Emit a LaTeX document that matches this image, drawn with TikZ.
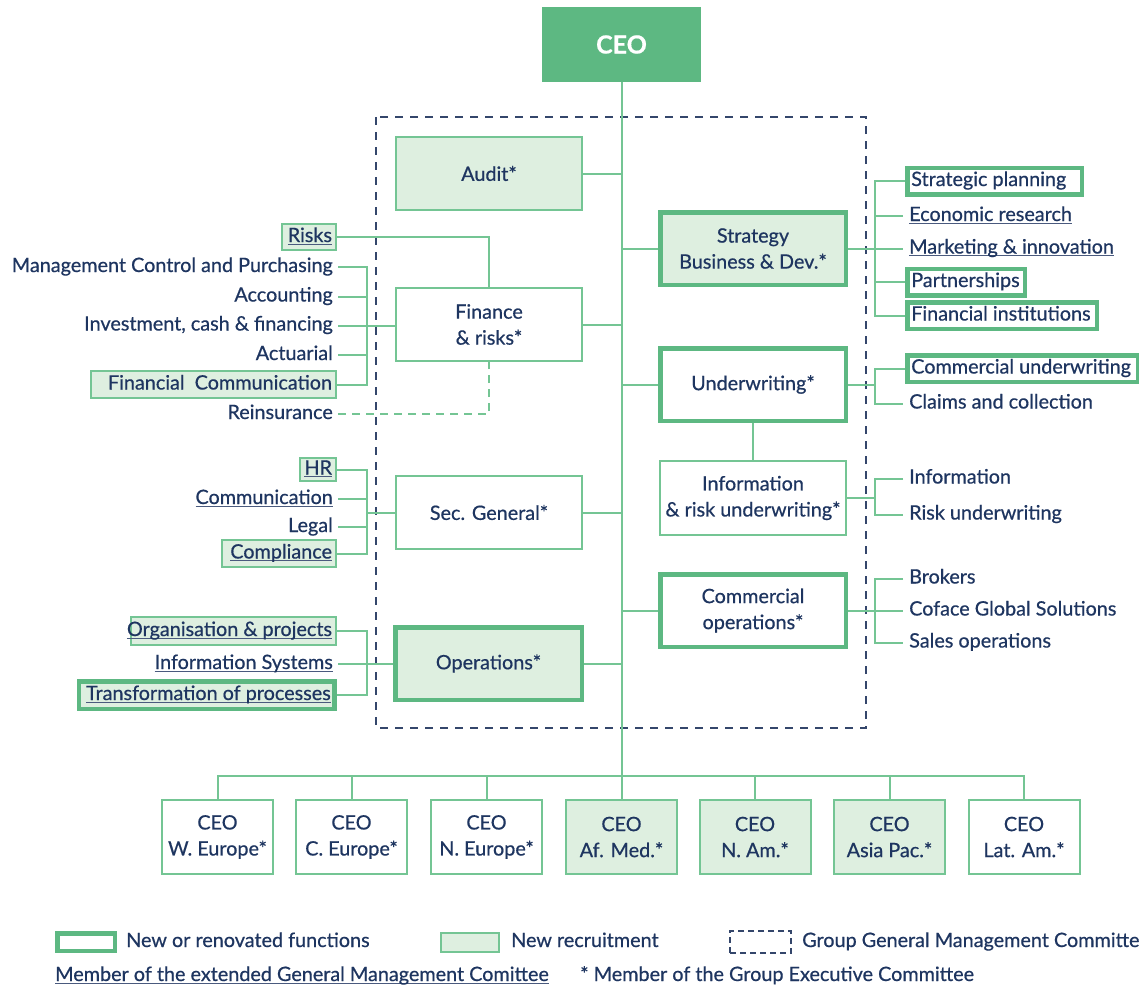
\documentclass[tikz,border=0pt]{standalone}
\usepackage{fontspec}
\setmainfont{Lato}[FakeBold=0.6]
\usetikzlibrary{calc}
\definecolor{gthick}{HTML}{5DB882}
\definecolor{gthin}{HTML}{74C594}
\definecolor{lfill}{HTML}{DEEFE0}
\definecolor{navy}{HTML}{1E3560}
\definecolor{dnavy}{HTML}{34466B}
\definecolor{ulc}{HTML}{4A5A7E}
\newcommand\fs{\fontsize{19.8}{26}\selectfont}
\newsavebox\ulbx
\newcommand\ulx[1]{\sbox\ulbx{#1}\rlap{\color{ulc}\rule[-2.6pt]{\wd\ulbx}{1.1pt}}\usebox\ulbx}
\newcommand\rtx[2]{\makebox[#1][r]{#2}}
\newcommand\ltx[2]{\makebox[#1][l]{#2}}
\tikzset{
  mbox/.style={draw=gthin, line width=2pt, minimum width=186pt, minimum height=73pt, align=center, font=\fs, text=navy, inner sep=0pt, fill=white},
  tbox/.style={mbox, draw=gthick, line width=4.5pt, minimum width=185.5pt, minimum height=72.5pt},
  lf/.style={fill=lfill},
  lt/.style={font=\fs, text=navy, inner xsep=5pt, inner ysep=0pt, text height=14pt, text depth=4pt},
  sbox/.style={lt, draw=gthin, line width=2pt, fill=lfill, inner xsep=4pt},
  skbox/.style={lt, draw=gthick, line width=4.5pt, inner xsep=3.75pt, fill=white},
  conn/.style={draw=gthin, line width=2pt},
  rbox/.style={draw=gthin, line width=2pt, minimum width=111pt, minimum height=74pt, align=center, font=\fs, text=navy, fill=white, inner sep=0pt}
}
\begin{document}
\begin{tikzpicture}[x=1pt,y=-1pt]
\useasboundingbox (0,0) rectangle (1139,986);
% group committee dashed frame
\draw[dnavy, line width=1.6pt, dash pattern=on 8pt off 7pt] (376,117) rectangle (866,728);
% bracket x positions
\coordinate (Lb) at (367,0);
\coordinate (Rb) at (875,0);
% CEO
\node[fill=gthick, minimum width=159pt, minimum height=75pt, inner sep=0pt, text=white, font=\fontsize{25}{30}\selectfont\bfseries] (ceo) at (621.5,44.5) {CEO};
% main boxes
\node[mbox, lf] (audit) at (489,173.5) {Audit*};
\node[tbox, lf] (strat) at (753,248.5) {Strategy\\Business \& Dev.*};
\node[mbox] (fin) at (489,324.5) {Finance\\\& risks*};
\node[tbox] (underw) at (753,384.5) {Underwriting*};
\node[mbox, minimum height=74pt] (info) at (753,498) {Information\\\& risk underwriting*};
\node[mbox] (sec) at (489,512.5) {Sec. General*};
\node[tbox] (comm) at (753,610.5) {Commercial\\operations*};
\node[tbox, lf, minimum width=186.5pt] (ops) at (488.5,663.5) {Operations*};
% regional boxes
\node[rbox] (r1) at (217.5,837) {CEO\\W. Europe*};
\node[rbox] (r2) at (351.5,837) {CEO\\C. Europe*};
\node[rbox] (r3) at (486.5,837) {CEO\\N. Europe*};
\node[rbox, lf] (r4) at (621.5,837) {CEO\\Af. Med.*};
\node[rbox, lf] (r5) at (755,837) {CEO\\N. Am.*};
\node[rbox, lf] (r6) at (889.5,837) {CEO\\Asia Pac.*};
\node[rbox] (r7) at (1024,837) {CEO\\Lat. Am.*};
% finance items
\node[sbox, anchor=east, minimum height=26pt] (risks) at (337,237) {\rtx{46pt}{\ulx{Risks}}};
\node[lt, anchor=east] (mcp) at (338,267) {Management Control and Purchasing};
\node[lt, anchor=east] (acc) at (338,296.5) {Accounting};
\node[lt, anchor=east] (inv) at (338,325.5) {Investment, cash \& financing};
\node[lt, anchor=east] (act) at (338,355) {Actuarial};
\node[sbox, anchor=east, minimum height=27pt] (fcom) at (337,384.5) {\rtx{237pt}{Financial\ \ Communication}};
\node[lt, anchor=east] (reins) at (338,414) {Reinsurance};
% sec general items
\node[sbox, anchor=east, minimum height=23pt] (hr) at (337,469.5) {\rtx{28pt}{\ulx{HR}}};
\node[lt, anchor=east] (com) at (338,499) {\ulx{Communication}};
\node[lt, anchor=east] (legal) at (338,527) {Legal};
\node[sbox, anchor=east, minimum height=27pt] (compl) at (337,553.5) {\rtx{106pt}{\ulx{Compliance}}};
% operations items
\node[sbox, anchor=east, minimum height=28pt] (org) at (337,631) {\rtx{197pt}{\ulx{Organisation \& projects}}};
\node[lt, anchor=east] (isys) at (338,664) {\ulx{Information Systems}};
\node[skbox, lf, anchor=east, minimum height=27.5pt] (trans) at (336.75,695) {\rtx{248pt}{\ulx{Transformation of processes}}};
% strategy items
\node[skbox, anchor=west, minimum height=26.5pt] (sp) at (905.25,181) {\ltx{167pt}{Strategic planning}};
\node[lt, anchor=west, inner xsep=6pt] (er) at (903,216) {\ulx{Economic research}};
\node[lt, anchor=west, inner xsep=6pt] (mi) at (903,248.5) {\ulx{Marketing \& innovation}};
\node[skbox, anchor=west, minimum height=26.5pt] (pa) at (905.25,282) {\ltx{110pt}{Partnerships}};
\node[skbox, anchor=west, minimum height=26.5pt] (fi) at (905.25,315.5) {\ltx{182pt}{Financial institutions}};
% underwriting items
\node[skbox, anchor=west, minimum height=26.5pt] (cu) at (905.25,368.5) {\ltx{223pt}{Commercial underwriting}};
\node[lt, anchor=west, inner xsep=6pt] (cc) at (903,403.5) {Claims and collection};
% information items
\node[lt, anchor=west, inner xsep=6pt] (inf) at (903,478.5) {Information};
\node[lt, anchor=west, inner xsep=6pt] (ru) at (903,514.5) {Risk underwriting};
% commercial items
\node[lt, anchor=west, inner xsep=6pt] (bro) at (903,578.5) {Brokers};
\node[lt, anchor=west, inner xsep=6pt] (cgs) at (903,610.5) {Coface Global Solutions};
\node[lt, anchor=west, inner xsep=6pt] (sop) at (903,642.5) {Sales operations};
% ---- connectors ----
\draw[conn] (ceo.south) -- (r4.north);
\foreach \n in {audit,fin,sec,ops} \draw[conn] (\n.east) -- (\n.east -| ceo.south);
\foreach \n in {strat,underw,comm} \draw[conn] (\n.west) -- (\n.west -| ceo.south);
\draw[conn] (underw.south) -- (info.north);
\draw[conn] (r1.north) -- ++(0,-23) -- ($(r7.north)+(0,-23)$) -- (r7.north);
\foreach \n in {r2,r3,r5,r6} \draw[conn] (\n.north) -- ++(0,-23);
% finance
\draw[conn] (risks.east) -| (fin.north);
\draw[conn] (mcp.east) -- (mcp.east -| Lb) -- (fcom.east -| Lb) -- (fcom.east);
\draw[conn] (acc.east) -- (acc.east -| Lb);
\draw[conn] (act.east) -- (act.east -| Lb);
\draw[conn] (inv.east) -- (inv.east -| fin.west);
\draw[gthin, line width=2pt, dash pattern=on 8pt off 6pt] (reins.east) -| (fin.south);
% sec general
\draw[conn] (hr.east) -- (hr.east -| Lb) -- (compl.east -| Lb) -- (compl.east);
\draw[conn] (com.east) -- (com.east -| Lb);
\draw[conn] (legal.east) -- (legal.east -| Lb);
\draw[conn] (sec.west) -- (sec.west -| Lb);
% operations
\draw[conn] (org.east) -- (org.east -| Lb) -- (trans.east -| Lb) -- (trans.east);
\draw[conn] (isys.east) -- (isys.east -| ops.west);
% strategy
\draw[conn] (sp.west) -- (sp.west -| Rb) -- (fi.west -| Rb) -- (fi.west);
\draw[conn] (er.west) -- (er.west -| Rb);
\draw[conn] (pa.west) -- (pa.west -| Rb);
\draw[conn] (strat.east) -- (strat.east -| mi.west);
% underwriting
\draw[conn] (cu.west) -- (cu.west -| Rb) -- (cc.west -| Rb) -- (cc.west);
\draw[conn] (underw.east) -- (underw.east -| Rb);
% information
\draw[conn] (inf.west) -- (inf.west -| Rb) -- (ru.west -| Rb) -- (ru.west);
\draw[conn] (info.east) -- (info.east -| Rb);
% commercial
\draw[conn] (bro.west) -- (bro.west -| Rb) -- (sop.west -| Rb) -- (sop.west);
\draw[conn] (comm.east) -- (comm.east -| cgs.west);
% ---- legend ----
\node[draw=gthick, line width=4.5pt, minimum width=57.5pt, minimum height=17.5pt, inner sep=0pt] (lg1) at (86,942) {};
\node[lt, anchor=west, inner xsep=0pt] (lg1t) at (126,942) {New or renovated functions};
\node[draw=gthin, line width=2pt, fill=lfill, minimum width=58pt, minimum height=19pt, inner sep=0pt] (lg2) at (470,942.5) {};
\node[lt, anchor=west, inner xsep=0pt] (lg2t) at (511,942) {New recruitment};
\node[draw=dnavy, line width=1.5pt, dash pattern=on 6pt off 4pt, minimum width=61pt, minimum height=22pt, inner sep=0pt] (lg3) at (760.5,942) {};
\node[lt, anchor=west, inner xsep=0pt] (lg3t) at (802,942) {Group General Management Committe};
\node[lt, anchor=west, inner xsep=0pt] (lg4) at (55,976) {\ulx{Member of the extended General Management Comittee}};
\node[lt, anchor=west, inner xsep=0pt] (lg5) at (580,976) {* Member of the Group Executive Committee};
\end{tikzpicture}
\end{document}
